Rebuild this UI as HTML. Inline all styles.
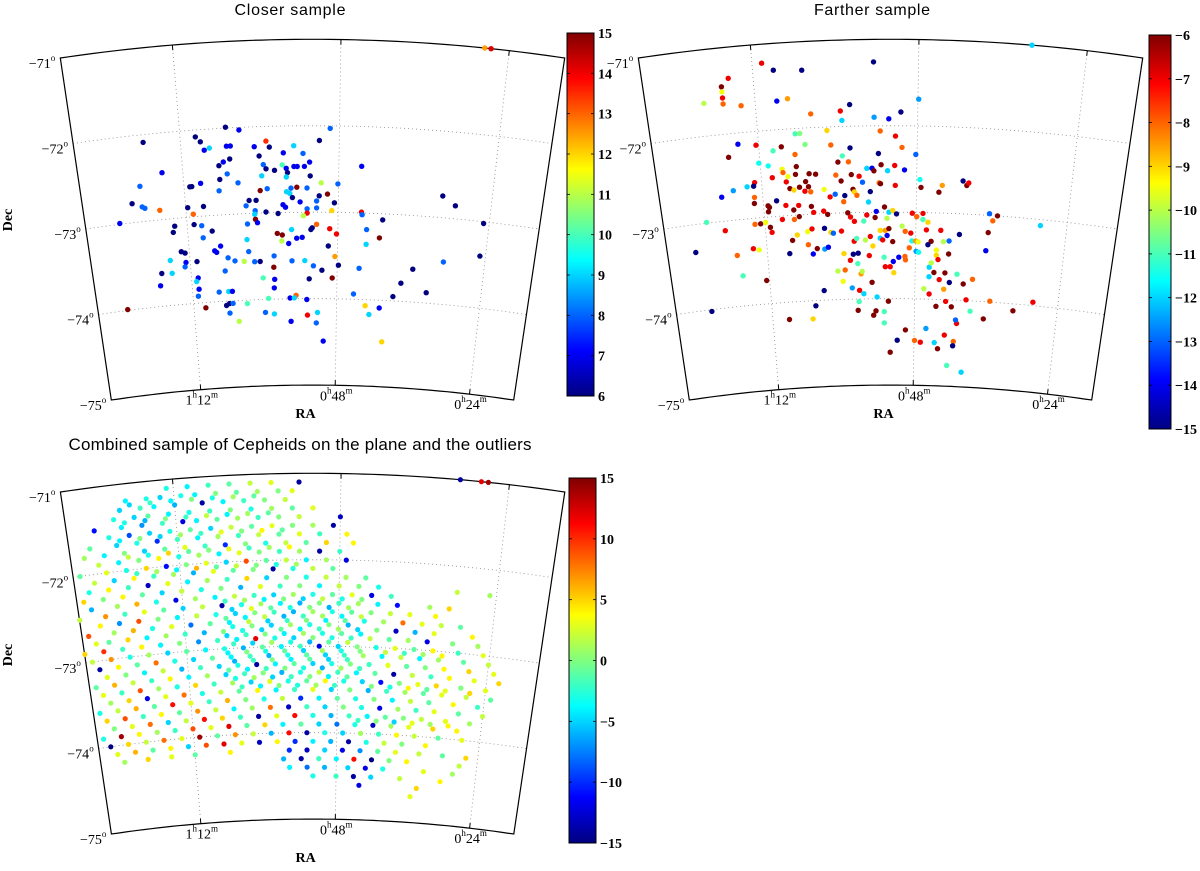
<!DOCTYPE html>
<html><head><meta charset="utf-8"><title>Cepheid samples</title>
<style>
html,body{margin:0;padding:0;background:#fff;}
svg{display:block;font-family:"Liberation Sans",sans-serif;}
.serif{font-family:"Liberation Serif",serif;}
</style></head>
<body>
<svg id="chart" xmlns="http://www.w3.org/2000/svg" width="1200" height="871" viewBox="0 0 1200 871">
<defs>
<linearGradient id="jet" x1="0" y1="1" x2="0" y2="0">
<stop offset="0" stop-color="#000080"/><stop offset="0.125" stop-color="#0000ff"/>
<stop offset="0.375" stop-color="#00ffff"/><stop offset="0.625" stop-color="#ffff00"/>
<stop offset="0.875" stop-color="#ff0000"/><stop offset="1" stop-color="#800000"/>
</linearGradient>
</defs>
<text x="290" y="15" text-anchor="middle" font-size="16" textLength="111">Closer sample</text>
<text x="872" y="15" text-anchor="middle" font-size="16" textLength="116">Farther sample</text>
<text x="300" y="450" text-anchor="middle" font-size="17" textLength="463">Combined sample of Cepheids on the plane and the outliers</text>
<g id="g-closer"></g>
<g id="g-farther"></g>
<g id="g-combined"></g>
</svg>
<script>
// ---------- data: closer sample (RA in minutes, Dec in degrees, colour value) ----------
const closerRa = [27.5,26.6,77.6,65.1,63.1,69.7,69.0,67.7,68.5,65.1,64.5,60.9,59.1,58.6,60.2,56.5,54.9,51.0,49.4,53.5,64.7,65.7,66.4,65.2,59.6,59.2,57.9,56.7,56.1,55.9,54.9,54.4,53.3,52.5,52.4,56.1,59.9,44.5,75.2,78.8,66.4,63.6,69.4,71.1,70.8,66.6,60.2,59.1,54.5,56.1,55.6,55.4,52.9,50.7,48.1,55.2,51.0,49.7,48.6,51.4,54.0,56.7,56.3,62.0,60.9,80.3,78.8,78.4,76.1,71.7,69.2,70.9,62.5,61.1,61.2,59.4,57.5,52.9,51.4,52.9,53.5,51.4,52.1,52.3,49.0,44.3,44.2,40.9,31.7,29.6,24.9,24.9,82.6,61.1,60.8,62.4,70.9,69.7,74.0,74.3,69.6,68.1,57.7,56.9,55.4,57.0,54.6,53.7,55.9,62.6,49.3,48.2,43.4,43.4,41.3,49.5,73.3,72.7,67.9,67.6,66.9,62.4,61.5,60.6,65.8,64.7,63.2,58.3,55.4,53.3,51.9,50.5,48.4,47.8,44.4,30.7,35.6,37.4,38.6,33.1,40.8,75.2,72.7,72.9,76.8,75.1,77.2,70.9,70.9,71.2,70.9,71.1,66.4,60.2,58.3,58.4,58.4,52.6,48.8,45.2,67.6,66.0,65.4,59.4,54.8,55.8,55.1,53.0,43.2,42.5,83.1,70.0,66.5,66.0,65.4,63.0,66.0,64.5,60.0,58.5,55.7,52.9,51.2,51.4,50.2,40.1];
const closerDec = [-71.0,-71.0,-72.09,-71.99,-72.03,-72.08,-72.14,-72.22,-72.24,-72.21,-72.21,-72.23,-72.17,-72.24,-72.34,-72.31,-72.23,-72.17,-72.03,-72.32,-72.36,-72.39,-72.43,-72.53,-72.44,-72.49,-72.51,-72.45,-72.49,-72.54,-72.47,-72.47,-72.47,-72.42,-72.58,-72.59,-72.57,-72.46,-72.46,-72.59,-72.59,-72.64,-72.62,-72.65,-72.65,-72.72,-72.74,-72.72,-72.71,-72.76,-72.78,-72.72,-72.72,-72.66,-72.67,-72.83,-72.81,-72.79,-72.89,-72.87,-72.88,-72.91,-72.94,-72.85,-72.85,-72.78,-72.83,-72.85,-72.89,-72.89,-72.89,-72.97,-72.91,-72.97,-73.01,-72.99,-73.01,-72.96,-72.95,-73.01,-73.04,-73.14,-73.18,-73.20,-72.98,-72.99,-73.02,-73.07,-72.75,-72.85,-73.02,-73.40,-72.99,-73.07,-73.11,-73.12,-73.09,-73.11,-73.09,-73.16,-73.25,-73.18,-73.24,-73.26,-73.20,-73.33,-73.30,-73.29,-73.36,-73.30,-73.19,-73.25,-73.19,-73.36,-73.28,-73.39,-73.39,-73.41,-73.41,-73.43,-73.36,-73.44,-73.56,-73.56,-73.50,-73.54,-73.55,-73.50,-73.56,-73.56,-73.62,-73.67,-73.51,-73.61,-73.64,-73.51,-73.62,-73.79,-73.95,-73.88,-74.09,-73.48,-73.52,-73.57,-73.62,-73.63,-73.76,-73.52,-73.71,-73.75,-73.84,-73.92,-73.65,-73.75,-73.77,-73.87,-73.63,-73.77,-73.76,-73.94,-73.89,-73.89,-73.89,-73.99,-73.96,-73.99,-73.99,-74.01,-74.07,-74.17,-73.99,-74.06,-74.05,-74.03,-74.03,-74.04,-74.14,-74.24,-74.15,-74.17,-74.26,-74.19,-74.16,-74.28,-74.49,-74.48];
const closerVal = [12.5,14.2,6,6,7,6,6,9,7,7,7,7,13.5,6,6,7,9,6,8,8,6,7,6,8,8,6,6,10,7,6,7,7,7,7,6,9,9,7,7,8,6,8,7,6,6,8,15,8,15,9,9,8,8,11,8,6,6,15,6,8,7,7,7,6,6,6,8,8,13,6,6,13,8,8,9,6,6,8,8,14,11,13,6,6,12,14,8,6,6,6,6,6,7,15,7,8,6,8,6,6,8,6,15,15,9,11,7,7,7,9,14,14,8,9,15,6,6,6,7,7,7,8,8,6,8,8,11,8,8,9,8,6,12.5,6,8,8,6,6,6,6,7,9,7,8,6,9,7,6,7,9,7,8,8,10,7,7,15,6,15,8,8,9,7,10,13,7,9,7,12,9,15,15,6,6,8,10,8,11,8,9,7,14,9,8,7,12];
const closerTicks = [6,7,8,9,10,11,12,13,14,15];

// ---------- data: farther sample ----------
const fartherRa = [31.9,54.5,70.6,69.0,64.9,75.6,76.7,76.7,76.7,76.7,79.5,74.1,68.8,67.2,58.1,59.5,59.3,63.9,54.5,52.3,50.5,47.9,61.6,53.6,51.3,66.4,65.7,65.0,61.1,58.2,50.3,75.1,72.4,68.6,69.9,76.7,66.6,59.4,53.9,48.2,60.1,58.5,53.5,51.4,72.2,70.8,66.5,55.7,54.9,54.6,52.5,49.9,70.3,68.7,68.6,66.7,64.6,63.6,60.5,59.7,58.1,56.9,56.4,53.8,51.3,47.5,47.3,44.0,44.5,40.8,40.2,39.9,73.1,73.3,74.3,76.5,78.4,73.3,67.9,68.2,67.7,67.1,66.2,65.2,64.8,65.4,64.5,62.4,61.5,60.7,57.9,57.7,59.4,59.2,57.3,55.2,55.5,53.6,69.9,71.1,71.3,71.3,73.4,68.5,67.3,66.5,66.5,64.5,64.2,62.6,62.0,58.8,58.4,57.8,55.8,56.3,54.5,54.3,53.0,52.3,51.7,51.1,52.6,48.6,46.9,47.9,46.9,46.1,81.2,78.4,73.6,72.7,71.2,71.0,71.9,69.2,67.3,67.0,65.3,64.6,62.6,61.6,61.2,59.9,57.9,57.5,56.1,55.3,54.9,53.7,52.9,53.7,53.3,52.6,51.7,52.3,50.2,49.7,48.8,48.6,48.0,47.6,49.0,47.9,46.3,45.5,44.0,43.5,42.6,41.0,36.4,35.1,35.8,36.4,36.6,28.2,46.0,44.6,44.6,42.6,83.5,76.9,74.2,73.3,68.4,67.8,65.3,64.6,63.9,62.7,62.1,59.6,58.1,57.3,55.5,58.6,57.4,53.1,52.9,52.1,51.6,50.7,49.7,49.6,51.5,47.5,45.7,45.7,45.4,44.3,44.9,44.0,43.1,42.3,41.1,40.0,38.5,43.2,46.5,45.6,44.4,42.8,41.8,39.4,38.6,35.4,36.3,31.4,28.2,72.5,76.3,82.1,69.2,65.2,64.6,63.1,59.9,60.7,59.5,56.9,56.7,58.4,57.2,56.5,55.1,54.3,57.3,57.5,54.5,54.9,53.1,53.1,52.4,49.5,47.9,46.9,46.0,50.9,52.1,44.5,43.9,42.8,41.2,41.3,40.8,41.0,42.2,39.6];
const fartherDec = [-71.0,-71.26,-71.22,-71.31,-71.33,-71.36,-71.45,-71.51,-71.58,-71.65,-71.62,-71.69,-71.67,-71.65,-71.75,-71.82,-71.93,-71.84,-71.90,-71.92,-71.84,-71.69,-72.04,-72.06,-72.12,-72.06,-72.06,-72.19,-72.21,-72.25,-72.25,-72.13,-72.16,-72.20,-72.24,-72.27,-72.30,-72.34,-72.32,-72.33,-72.41,-72.41,-72.45,-72.46,-72.37,-72.41,-72.44,-72.49,-72.49,-72.52,-72.52,-72.51,-72.55,-72.46,-72.50,-72.53,-72.53,-72.54,-72.56,-72.63,-72.56,-72.58,-72.65,-72.66,-72.69,-72.62,-72.71,-72.68,-72.76,-72.62,-72.67,-72.64,-72.59,-72.63,-72.63,-72.66,-72.72,-72.76,-72.55,-72.61,-72.69,-72.71,-72.68,-72.62,-72.68,-72.73,-72.74,-72.72,-72.81,-72.78,-72.73,-72.76,-72.87,-72.80,-72.80,-72.76,-72.88,-72.67,-72.82,-72.89,-72.87,-72.94,-72.83,-72.88,-72.94,-72.89,-73.02,-72.91,-72.98,-72.97,-73.01,-73.00,-73.05,-73.10,-73.03,-73.10,-73.06,-72.99,-72.94,-73.00,-72.98,-73.02,-73.07,-73.01,-73.01,-73.05,-73.08,-73.11,-72.99,-73.11,-73.07,-73.07,-73.12,-73.18,-73.06,-73.04,-73.05,-73.23,-73.20,-73.17,-73.17,-73.22,-73.23,-73.21,-73.33,-73.30,-73.32,-73.28,-73.39,-73.21,-73.21,-73.30,-73.32,-73.27,-73.34,-73.19,-73.16,-73.22,-73.24,-73.33,-73.33,-73.34,-73.41,-73.45,-73.20,-73.33,-73.20,-73.33,-73.32,-73.24,-72.98,-73.00,-73.06,-73.20,-73.41,-73.07,-73.37,-73.43,-73.49,-73.47,-73.32,-73.41,-73.35,-73.37,-73.44,-73.29,-73.35,-73.46,-73.40,-73.41,-73.39,-73.47,-73.48,-73.47,-73.50,-73.55,-73.59,-73.52,-73.63,-73.63,-73.57,-73.52,-73.51,-73.55,-73.70,-73.46,-73.63,-73.74,-73.58,-73.54,-73.69,-73.77,-73.69,-73.80,-73.70,-73.81,-73.75,-73.88,-73.88,-73.94,-74.08,-74.02,-74.08,-73.99,-74.12,-73.99,-74.20,-74.08,-73.96,-73.73,-73.65,-74.02,-74.20,-74.21,-74.06,-73.89,-73.79,-73.67,-73.66,-73.71,-73.68,-73.87,-73.90,-73.94,-73.81,-73.98,-74.03,-74.13,-74.14,-74.19,-74.15,-74.28,-74.03,-74.36,-74.48,-74.50,-74.34,-74.48,-74.62,-74.50,-74.57,-74.41,-74.48,-74.53,-74.27,-74.23,-74.76,-74.83];
const fartherVal = [-12,-15,-7,-15,-15,-7,-6,-9.5,-7,-8,-10,-8,-14,-8.5,-15,-7,-12,-8,-12.5,-14,-15,-12.5,-9,-8,-7,-11,-10.5,-10.5,-8,-15,-8,-14,-7,-6,-11,-6,-8,-11,-15,-13,-6,-8,-6,-7,-11.5,-11.5,-6,-12,-14,-6,-12,-14,-7,-9.5,-8,-6,-6,-6,-8,-6,-6,-7,-13,-8,-7,-11.5,-6,-8.5,-6,-15,-6,-7,-7,-15,-12,-12.5,-14,-8,-9.5,-7,-6,-9,-6,-6,-6,-7,-8,-9.5,-7,-13,-6,-9,-8,-15,-8,-15,-12,-6,-15,-6,-6,-6,-6,-7,-6,-7,-6,-6,-7,-7,-6,-6,-7,-7,-7,-11,-6,-14,-6,-12,-9,-15,-10,-7,-7,-8,-11,-9,-11,-7,-8,-6,-6,-7,-9.5,-7,-8,-9,-9.5,-7,-15,-9,-13,-7,-7,-11,-10,-7,-9,-9,-8.5,-12,-7,-14,-6,-6,-10,-8,-7,-11.5,-8.5,-9.5,-8,-12.5,-7,-6,-7,-10,-13,-15,-13,-6,-8,-6,-14,-12,-15,-9.5,-9,-6,-15,-8,-7,-9.5,-15,-6,-8,-14,-6,-12.5,-14,-9,-15,-15,-7,-7,-11,-11,-7,-7,-14,-14,-8,-8,-9,-11.5,-12,-12,-10,-7,-6,-7,-6,-15,-11,-6,-8,-8.5,-10,-7,-6,-7,-6,-7,-11,-8,-6,-6,-7,-6,-11,-15,-6,-9,-15,-15,-9.5,-10,-8,-8.5,-10,-12.5,-7,-12,-6,-12,-11,-6,-6,-6,-11,-11,-6,-6,-8,-7,-12.5,-15,-6,-12,-6,-7,-8,-15,-7,-13,-11,-12];
const fartherTicks = [-6,-7,-8,-9,-10,-11,-12,-13,-14,-15];

// ---------- data: combined sample (rows of equal Dec) ----------
const combDecRows = [-71.0,-71.1,-71.2,-71.25,-71.3,-71.4,-71.45,-71.5,-71.6,-71.65,-71.7,-71.8,-71.85,-71.9,-72.0,-72.05,-72.1,-72.2,-72.3,-72.4,-72.45,-72.5,-72.55,-72.6,-72.65,-72.7,-72.75,-72.8,-72.85,-72.9,-72.95,-73.0,-73.05,-73.1,-73.15,-73.2,-73.25,-73.3,-73.35,-73.4,-73.45,-73.5,-73.6,-73.7,-73.8,-73.85,-73.9,-74.0,-74.1,-74.2,-74.3,-74.4,-74.5,-74.6,-74.7];
const combRaRows = [
[31,28,27],
[73,70,67,64,61,58,54],
[79,76,74,71,69,66,63,60,57,55],
[78.5,75.5,72.5,69.5,66.5,63.5,60.5],
[80,77,75,72,68,65,62,59,56],
[81,78,76,73,70,67,64,61,58,55,52],
[79.5,76.5,73.5,70.5,67.5,64.5,61.5,58.5],
[84,80,77,74,71,69,66,63,60,57,54,48],
[82,79,76,73,70,67,64,61,58,55,52,49],
[80.5,77.5,74.5,71.5,68.5,65.5,62.5,59.5,56.5],
[85,81,78,75,72,69,66,63,60,57,54,51,47],
[86,83,80,77,74,71,68,65,62,59,56,53,50,46],
[79.5,76.5,73.5,70.5,67.5,64.5,61.5,58.5,55.5],
[84,81,78,75,72,69,66,63,60,57,54,51,48],
[87,83,80,77,74,71,68,65,62,59,56,53,50,47],
[78.5,75.5,72.5,69.5,66.5,63.5,60.5,57.5,54.5],
[85,82,79,76,73,70,67,64,61,58,55,52,49],
[86,83,80,77,74,71,68,65,62,59,56,53,50,47,44],
[87,84,81,78,75,72,69,66,63,60,57,54,51,48,45,42,30,25],
[86,82,79,76,73,70,67,64,61,58,55,52,49,46,43,40],
[65.5,62.5,59.5,56.5,53.5,50.5,47.5,44.5],
[88,84,81,78,75,72,69,66,63,60,57,54,51,48,45,42,39,34,31],
[64.5,61.5,58.5,55.5,52.5,49.5,46.5],
[85,82,79,76,73,70,67,64,61,58,55,52,49,46,43,40,37,33],
[65.5,62.5,59.5,56.5,53.5,50.5,47.5,44.5],
[87,83,80,77,74,71,68,65,62,59,56,53,50,47,44,41,38,35,32,29],
[64.5,61.5,58.5,55.5,52.5,49.5,46.5],
[86,84,81,78,75,72,69,66,63,60,57,54,51,48,45,42,39,36,33,27],
[65.5,62.5,59.5,56.5,53.5,50.5,47.5,44.5],
[88,85,82,79,76,73,70,67,64,61,58,55,52,49,46,43,40,37,34,30,26],
[64.5,61.5,58.5,55.5,52.5,49.5,46.5],
[87,84,81,78,75,72,69,66,63,60,57,54,51,48,45,42,39,36,33,29,25],
[65.5,62.5,59.5,56.5,53.5,50.5,47.5,44.5,40.5,37.5,34.5,31.5],
[86,83,80,77,74,71,68,65,62,59,56,53,50,47,44,41,38,35,32,28,24],
[64.5,61.5,58.5,55.5,52.5,49.5,46.5],
[85,82,79,76,73,70,67,64,61,58,55,52,49,46,43,40,37,34,31,27,23],
[65.5,62.5,59.5,56.5,53.5,50.5,47.5,44.5],
[87,84,81,78,75,72,69,66,63,60,57,54,51,48,45,42,39,36,33,30,26,22],
[64.5,61.5,58.5,55.5,52.5,49.5,46.5],
[86,83,80,77,74,71,68,65,62,59,56,53,50,47,44,41,38,35,32,28,24],
[63.5,60.5,57.5,54.5,51.5,48.5,42.5,39.5,36.5,33.5,30.5,26.5],
[85,82,79,76,73,70,67,64,61,58,55,52,49,46,43,40,37,34,31,27,23],
[87,84,81,78,75,72,69,66,63,60,57,54,51,48,45,42,39,36,33,29,25],
[86,83,80,77,74,71,68,65,62,59,56,53,50,47,44,41,38,35,32,28,24],
[85,82,79,76,73,70,67,64,61,58,55,52,49,46,43,40,37,34,30,26],
[44.5,41.5,38.5,35.5,32.5,29.5],
[87,84,81,78,75,72,69,66,63,60,57,54,51,48,45,42,39,36,32,28],
[86,83,80,77,74,71,68,65,62,59,56,53,50,47,44,41,38,35,31,27],
[85,82,79,76,73,70,67,64,61,58,55,52,49,46,43,40,37,33],
[84,80,76,72,66,56,53,50,47,44,41,38,34,30,26],
[57,54,51,48,45,42,39,36,27],
[56,53,50,46,43,40,33,28],
[52,48,45,42,37,30],
[44,34],
[35]
];
const combValRows = [
[-14,12,14],
[-3,-4,-2,-1,2,3,-14],
[-4,-3,-5,-3,-4,0,-1,1,0,3],
[-5,-2,-4,0,-3,1,-1],
[-5,-2,-4,-6,-14,-4,-2,0,2],
[-3,-5,-1,-4,-3,-2,0,-3,1,-1,3],
[-3,-6,0,-2,2,-4,1,-1],
[-11,-4,-7,-2,-12,-4,-1,1,-2,0,2,-13],
[-3,-9,-5,-3,-1,-5,2,-1,3,0,1,-14],
[-4,0,-5,1,-2,3,0,4,-1],
[-1,-5,-3,-10,-2,-4,1,-2,2,-1,3,-2,4],
[1,-4,0,-5,-1,3,-2,-10,0,-3,2,-1,5,4],
[2,-3,5,-1,0,3,-2,1,4],
[2,-4,0,4,-3,1,-4,3,0,-2,1,-14,-2],
[-1,3,-3,5,-11,0,3,-5,9,-1,2,-4,1,-12],
[-2,1,-4,6,-1,2,0,-3,1],
[2,-5,4,-2,1,-6,3,-1,0,-14,-3,2,-1],
[-3,4,-2,-13,3,-4,1,-2,5,-5,0,-3,2,1,-1],
[5,0,4,-1,-5,2,-3,0,-6,3,-2,0,-4,2,0,-3,2,1],
[-6,1,6,-3,-12,1,-4,2,-2,-5,1,-3,-1,3,-12,-2],
[-2,1,-4,0,-5,2,-3,0],
[2,7,-2,3,-1,-5,2,-14,-3,1,-4,-6,0,-2,1,-4,-11,1,5],
[-5,3,-1,-3,0,-6,1],
[4,-7,9,0,-4,2,-3,-5,0,-2,-6,1,-3,-1,0,2,3,4],
[-1,-4,2,-6,-2,1,-4,2],
[9,1,6,-3,3,-8,-1,-4,2,-5,-2,0,-4,-1,-3,1,8,3,2,-1],
[-3,0,-5,1,-3,0,-6],
[3,-1,5,-4,1,-2,-6,0,-3,-5,-1,-4,-2,1,-5,0,-13,-6,3,4],
[-5,-2,0,-4,1,-3,-1,-4],
[5,10,-2,4,-4,0,-7,-2,-4,12,-3,-5,0,-3,-2,2,-1,1,-12,0,1],
[-2,-5,1,-3,-6,-1,2],
[2,7,-3,1,-5,-1,-4,-3,-6,-1,-4,-2,-12,-5,0,-3,3,-1,4,-2,3],
[-4,0,-3,-1,-5,1,-3,0,2,-2,1,4],
[-14,4,-1,8,-3,-5,-1,-4,-2,-6,-3,-1,-5,-2,1,-4,2,-4,1,-1,2],
[-6,-2,0,-4,-1,-5,-2],
[3,0,-4,2,-6,-2,-5,-3,-14,-4,-1,-5,-3,0,-2,3,-1,0,4,5,3],
[-1,-4,-2,0,-3,-6,1,-2],
[-1,6,2,-2,4,-4,1,-5,-2,0,-6,-3,2,-2,-4,-1,-14,2,-2,4,3,5],
[-3,1,-5,-2,0,-4,-1],
[3,-2,9,1,-3,5,-2,1,-5,3,-3,-1,4,-3,-5,-11,0,3,5,0,3],
[-2,-4,0,-3,1,-2,0,-3,4,-1,3,5],
[1,5,-12,3,8,-3,2,-1,4,-4,-2,3,-5,0,-6,-2,1,-1,3,2,-1],
[-3,2,6,-1,11,3,-2,6,0,-3,2,-10,-4,-1,-3,0,-4,2,-1,4,-2],
[5,9,-2,4,-1,7,2,-4,1,8,-13,-2,-5,0,-3,-12,1,-2,3,-1,2],
[0,3,8,-5,2,11,5,-2,-14,3,11,-3,-6,-2,-4,-1,0,2,3,1],
[-2,0,-5,3,1,4],
[-3,14,4,1,-2,9,3,12,-1,5,-4,-1,-5,-8,-3,-13,1,3,5,4],
[-15,5,2,8,3,14,-1,7,2,-6,11,-14,-3,-5,1,-2,4,2,-1,3],
[3,6,-1,4,-5,9,12,3,-13,4,-10,-4,-6,-14,-3,2,0,4],
[1,5,3,-1,4,-10,-13,-5,-12,-7,-1,3,2,-1,5],
[-6,-14,-2,-4,11,-15,0,4,2],
[-4,-8,-6,-5,-12,-3,3,1],
[-3,-2,-14,-5,2,4],
[-12,5],
[3]
];
const combTicks = [15,10,5,0,-5,-10,-15];

// ---------- axis tick data ----------
const decGrid = [-71,-72,-73,-74,-75];
const raGrid = [72,48,24];
const raTickLabels = [["1","12"],["0","48"],["0","24"]];

// ---------- projection (conic) ----------
const NS = "http://www.w3.org/2000/svg";
const K = 0.2358*Math.PI/180;
const RAC = 52.05, RAMIN = 16.05, RAMAX = 88.05;
const R0 = 1708.7, PXDEG = 86.45;
function proj(p, ra, dec){
  const th = (RAC-ra)*K;
  const r = R0 - (-71-dec)*PXDEG;
  return [p.cx + r*Math.sin(th), p.cy - r*Math.cos(th)];
}
function jet(t){
  t = Math.max(0, Math.min(1, t));
  const c = v => Math.round(255*Math.max(0, Math.min(1, v)));
  return "rgb("+c(1.5-Math.abs(4*t-3))+","+c(1.5-Math.abs(4*t-2))+","+c(1.5-Math.abs(4*t-1))+")";
}
function el(tag, attrs){
  const e = document.createElementNS(NS, tag);
  for (const k in attrs) e.setAttribute(k, attrs[k]);
  return e;
}
function arcPts(p, dec, n){
  const pts = [];
  for (let i=0;i<=n;i++){ pts.push(proj(p, RAMAX-(RAMAX-RAMIN)*i/n, dec)); }
  return pts;
}

function drawPanel(g, p){
  [-72,-73,-74].forEach(d=>{
    const pts = arcPts(p, d, 60);
    const pl = el("polyline",{points:pts.map(q=>q[0].toFixed(1)+","+q[1].toFixed(1)).join(" "),fill:"none",stroke:"#8a8a8a","stroke-width":0.8,"stroke-dasharray":"1,3"});
    
    
    g.appendChild(pl);
  });
  raGrid.forEach(ra=>{
    const a = proj(p, ra, -71), b = proj(p, ra, -75);
    const ln = el("line",{x1:a[0],y1:a[1],x2:b[0],y2:b[1],stroke:"#8a8a8a","stroke-width":0.8,"stroke-dasharray":"1,3"});
    
    
    g.appendChild(ln);
    const a2 = proj(p, ra, -71.06), b2 = proj(p, ra, -74.94);
    const t1 = el("line",{x1:a[0],y1:a[1],x2:a2[0],y2:a2[1],stroke:"#000","stroke-width":1});
    
    
    g.appendChild(t1);
    const t2 = el("line",{x1:b[0],y1:b[1],x2:b2[0],y2:b2[1],stroke:"#000","stroke-width":1});
    
    
    g.appendChild(t2);
  });
  const top = arcPts(p, -71, 60), bot = arcPts(p, -75, 60).reverse();
  const all = top.concat(bot);
  const fr = el("polygon",{points:all.map(q=>q[0].toFixed(1)+","+q[1].toFixed(1)).join(" "),fill:"none",stroke:"#000","stroke-width":1.2});
  
  
  g.appendChild(fr);
  decGrid.forEach(d=>{
    const c = proj(p, RAMAX, d);
    const t = el("text",{x:(c[0]-5).toFixed(1),y:(c[1]+10).toFixed(1),"text-anchor":"end","font-size":14,"class":"serif"});
    t.textContent = "\u2212"+Math.abs(d);
    const s = el("tspan",{"font-size":9,dy:-7});
    s.textContent = "o";
    t.appendChild(s);
    
    
    g.appendChild(t);
  });
  raGrid.forEach((ra,i)=>{
    const b = proj(p, ra, -75);
    const t = el("text",{x:(b[0]+1).toFixed(1),y:(b[1]+15).toFixed(1),"text-anchor":"middle","font-size":14,"class":"serif"});
    const s0 = el("tspan",{}); s0.textContent = raTickLabels[i][0]; t.appendChild(s0);
    const s1 = el("tspan",{"font-size":9,dy:-7}); s1.textContent = "h"; t.appendChild(s1);
    const s2 = el("tspan",{dy:7}); s2.textContent = raTickLabels[i][1]; t.appendChild(s2);
    const s3 = el("tspan",{"font-size":9,dy:-7}); s3.textContent = "m"; t.appendChild(s3);
    
    
    g.appendChild(t);
  });
  const rx = el("text",{x:p.cx-7,y:p.raY,"text-anchor":"middle","font-size":14,"font-weight":"bold","class":"serif"});
  rx.textContent = "RA";
  
  
  g.appendChild(rx);
  if (p.decY){
    const dy = el("text",{x:0,y:0,"text-anchor":"middle","font-size":14,"font-weight":"bold","class":"serif",transform:"translate(12,"+p.decY+") rotate(-90)"});
    dy.textContent = "Dec";
    
    
    g.appendChild(dy);
  }
}

function drawColorbar(g, cb, ticks, vmin, vmax){
  const r = el("rect",{x:cb.x,y:cb.y,width:cb.w,height:cb.h,fill:"url(#jet)",stroke:"#000","stroke-width":1});
  
  
  g.appendChild(r);
  ticks.forEach(v=>{
    const y = cb.y + (vmax-v)/(vmax-vmin)*cb.h;
    const tl = el("line",{x1:cb.x,y1:y,x2:cb.x+3,y2:y,stroke:"#000","stroke-width":0.8});
    
    
    g.appendChild(tl);
    const tr = el("line",{x1:cb.x+cb.w-3,y1:y,x2:cb.x+cb.w,y2:y,stroke:"#000","stroke-width":0.8});
    
    
    g.appendChild(tr);
    const t = el("text",{x:cb.x+cb.w+4,y:(y+5).toFixed(1),"font-size":14,"font-weight":"bold","class":"serif"});
    t.textContent = v<0 ? "\u2212"+Math.abs(v) : String(v);
    
    
    g.appendChild(t);
  });
}

function drawPoints(g, p, ras, decs, vals, vmin, vmax, rad, name){
  for (let i=0;i<ras.length;i++){
    const q = proj(p, ras[i], decs[i]);
    const c = el("circle",{cx:q[0].toFixed(1),cy:q[1].toFixed(1),r:rad,fill:jet((vals[i]-vmin)/(vmax-vmin))});
    
    
    g.appendChild(c);
  }
}

const pCloser = {cx:312.5, cy:1748, raY:418, decY:220};
const pFarther = {cx:890.5, cy:1748, raY:418, decY:0};
const pComb = {cx:312.6, cy:2182, raY:862, decY:655};

const gC = document.getElementById("g-closer");
const gF = document.getElementById("g-farther");
const gB = document.getElementById("g-combined");

drawPanel(gC, pCloser);
drawPoints(gC, pCloser, closerRa, closerDec, closerVal, 6, 15, 2.7, "closer-star");
drawColorbar(gC, {x:567,y:33,w:27,h:363}, closerTicks, 6, 15);

drawPanel(gF, pFarther);
drawPoints(gF, pFarther, fartherRa, fartherDec, fartherVal, -15, -6, 2.7, "farther-star");
drawColorbar(gF, {x:1149,y:35,w:22,h:394}, fartherTicks, -15, -6);

drawPanel(gB, pComb);
const combRa = [], combDec = [], combVal = [];
combDecRows.forEach((d,i)=>{
  combRaRows[i].forEach((ra,j)=>{ combRa.push(ra); combDec.push(d); combVal.push(combValRows[i][j]); });
});
drawPoints(gB, pComb, combRa, combDec, combVal, -15, 15, 2.6, "combined-star");
drawColorbar(gB, {x:569,y:478,w:27,h:365}, combTicks, -15, 15);
</script>
</body></html>
